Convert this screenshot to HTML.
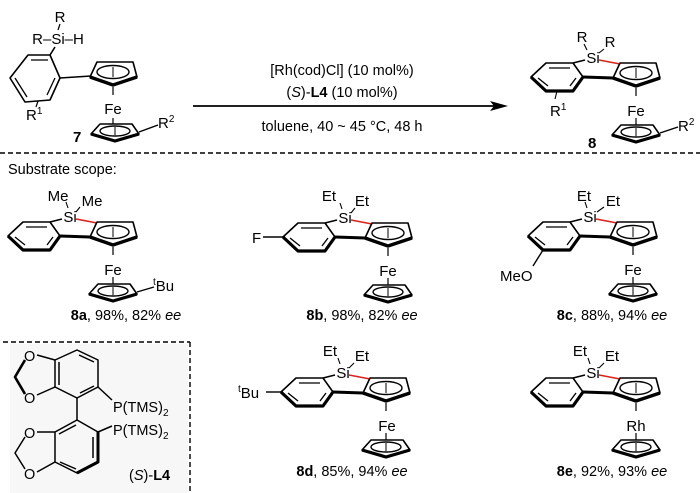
<!DOCTYPE html>
<html><head><meta charset="utf-8"><style>
html,body{margin:0;padding:0;background:#fff;}
svg{display:block;font-family:"Liberation Sans",sans-serif;}
</style></head><body>
<svg width="700" height="493" viewBox="0 0 700 493" xmlns="http://www.w3.org/2000/svg">
<defs>
<g id="cp">
  <polygon points="-23,6 -16,-9 20,-9 24,6 0,14" fill="none" stroke="#000" stroke-width="1.6" stroke-linejoin="round"/>
  <path d="M-23,6 L0,14 L24,6" fill="none" stroke="#000" stroke-width="3.4" stroke-linejoin="round"/>
  <ellipse cx="0" cy="1" rx="16" ry="6.5" fill="none" stroke="#000" stroke-width="1.4"/>
  <line x1="0" y1="-4" x2="0" y2="6" stroke="#000" stroke-width="1"/>
</g>
<g id="cp2">
  <polygon points="-24,3 -15,-7 17,-7 24,3 0,10" fill="none" stroke="#000" stroke-width="1.6" stroke-linejoin="round"/>
  <path d="M-24,3 L0,10 L24,3" fill="none" stroke="#000" stroke-width="3.2" stroke-linejoin="round"/>
  <ellipse cx="0" cy="0" rx="15" ry="5" fill="none" stroke="#000" stroke-width="1.4"/>
  <line x1="0" y1="-4" x2="0" y2="4" stroke="#000" stroke-width="1"/>
</g>
<g id="core">
  <polygon points="-47,5 -20,5 -10,19 -20,33 -47,33 -62,19" fill="none" stroke="#000" stroke-width="1.6" stroke-linejoin="round"/>
  <path d="M-62,19 L-47,33 L-20,33 L-10,19" fill="none" stroke="#000" stroke-width="3.2" stroke-linejoin="round"/>
  <line x1="-44" y1="10" x2="-23" y2="10" stroke="#000" stroke-width="1.3"/>
  <line x1="-55" y1="20" x2="-45" y2="28" stroke="#000" stroke-width="1.3"/>
  <line x1="-17" y1="20" x2="-23" y2="28" stroke="#000" stroke-width="1.3"/>
  <line x1="-20" y1="5" x2="-8" y2="2" stroke="#000" stroke-width="1.6"/>
  <line x1="6" y1="2" x2="27" y2="6" stroke="#e0201b" stroke-width="1.6"/>
  <line x1="-10" y1="19" x2="20" y2="20" stroke="#000" stroke-width="3"/>
  <use href="#cp" x="43" y="14"/>
  <line x1="43" y1="30" x2="43" y2="38" stroke="#000" stroke-width="1.2"/>
  <line x1="43" y1="60" x2="43" y2="67" stroke="#000" stroke-width="1.2"/>
  <use href="#cp2" x="43" y="74"/>
</g>
</defs>

<!-- starting material 7 -->
<g>
  <text x="60" y="22" font-size="15" text-anchor="middle">R</text>
  <line x1="60" y1="24" x2="58" y2="30" stroke="#000" stroke-width="1.2"/>
  <text x="58" y="44" font-size="15" text-anchor="middle">R–Si–H</text>
  <line x1="55" y1="47" x2="50" y2="55" stroke="#000" stroke-width="1.6"/>
  <polygon points="28,55 50,55 60,78 50,100 25,102 10,78" fill="none" stroke="#000" stroke-width="1.6" stroke-linejoin="round"/>
  <line x1="31" y1="60" x2="48" y2="60" stroke="#000" stroke-width="1.3"/>
  <line x1="15" y1="78" x2="27" y2="97" stroke="#000" stroke-width="1.3"/>
  <line x1="55" y1="78" x2="47" y2="95" stroke="#000" stroke-width="1.3"/>
  <line x1="60" y1="78" x2="91" y2="76" stroke="#000" stroke-width="1.6"/>
  <line x1="38" y1="101" x2="36" y2="107" stroke="#000" stroke-width="1.2"/>
  <text x="26" y="120" font-size="15">R<tspan font-size="10" dy="-6">1</tspan></text>
  <use href="#cp" x="113" y="71"/>
  <line x1="113" y1="87" x2="113" y2="95" stroke="#000" stroke-width="1.2"/>
  <text x="113" y="114" font-size="15" text-anchor="middle">Fe</text>
  <line x1="113" y1="118" x2="113" y2="124" stroke="#000" stroke-width="1.2"/>
  <use href="#cp2" x="115" y="131"/>
  <line x1="139" y1="132" x2="158" y2="125" stroke="#000" stroke-width="1.4"/>
  <text x="158" y="128" font-size="15">R<tspan font-size="10" dy="-6">2</tspan></text>
  <text x="73" y="142" font-size="15" font-weight="bold">7</text>
</g>

<!-- conditions -->
<text x="342" y="75" font-size="14.5" text-anchor="middle">[Rh(cod)Cl]  (10 mol%)</text>
<text x="342" y="97" font-size="14.5" text-anchor="middle">(<tspan font-style="italic">S</tspan>)-<tspan font-weight="bold">L4</tspan> (10 mol%)</text>
<line x1="193" y1="106" x2="498" y2="106" stroke="#000" stroke-width="1.8"/>
<polygon points="508,106 490,101 494,106 490,111" fill="#000"/>
<text x="342" y="131" font-size="14.5" text-anchor="middle">toluene, 40 ~ 45 °C, 48 h</text>

<!-- product 8 -->
<use href="#core" x="593" y="58"/>
<text x="593" y="63" font-size="15" text-anchor="middle">Si</text>
<text x="582" y="42" font-size="15" text-anchor="middle">R</text>
<text x="610" y="47" font-size="15" text-anchor="middle">R</text>
<line x1="584" y1="44" x2="587" y2="50" stroke="#000" stroke-width="1.1"/>
<line x1="604" y1="49" x2="599" y2="53" stroke="#000" stroke-width="1.1"/>
<line x1="557" y1="91" x2="555" y2="99" stroke="#000" stroke-width="1.1"/>
<text x="550" y="116" font-size="15">R<tspan font-size="10" dy="-6">1</tspan></text>
<text x="636" y="116" font-size="15" text-anchor="middle">Fe</text>
<line x1="660" y1="133" x2="678" y2="127" stroke="#000" stroke-width="1.4"/>
<text x="678" y="131" font-size="15">R<tspan font-size="10" dy="-6">2</tspan></text>
<text x="588" y="148" font-size="15" font-weight="bold">8</text>

<line x1="0" y1="153" x2="700" y2="153" stroke="#000" stroke-width="1.4" stroke-dasharray="5,3"/>
<text x="8" y="174" font-size="14.5">Substrate scope:</text>

<!-- 8a -->
<use href="#core" x="70" y="217"/>
<text x="70" y="222" font-size="15" text-anchor="middle">Si</text>
<text x="58" y="201" font-size="15" text-anchor="middle">Me</text>
<text x="92" y="206" font-size="15" text-anchor="middle">Me</text>
<line x1="66" y1="202" x2="68" y2="208" stroke="#000" stroke-width="1.1"/>
<line x1="80" y1="207" x2="76" y2="212" stroke="#000" stroke-width="1.1"/>
<text x="113" y="275" font-size="15" text-anchor="middle">Fe</text>
<line x1="137" y1="292" x2="154" y2="287" stroke="#000" stroke-width="1.4"/>
<text x="153" y="291" font-size="15"><tspan font-size="10" dy="-6">t</tspan><tspan dy="6">Bu</tspan></text>
<text x="126" y="320" font-size="14.5" text-anchor="middle"><tspan font-weight="bold">8a</tspan>, 98%, 82% <tspan font-style="italic">ee</tspan></text>

<!-- 8b -->
<use href="#core" x="345" y="218"/>
<text x="345" y="223" font-size="15" text-anchor="middle">Si</text>
<text x="329" y="201" font-size="15" text-anchor="middle">Et</text>
<text x="362" y="206" font-size="15" text-anchor="middle">Et</text>
<line x1="340" y1="203" x2="342" y2="209" stroke="#000" stroke-width="1.1"/>
<line x1="355" y1="208" x2="351" y2="213" stroke="#000" stroke-width="1.1"/>
<line x1="263" y1="237" x2="283" y2="237" stroke="#000" stroke-width="1.4"/>
<text x="252" y="243" font-size="15">F</text>
<text x="388" y="276" font-size="15" text-anchor="middle">Fe</text>
<text x="362" y="320" font-size="14.5" text-anchor="middle"><tspan font-weight="bold">8b</tspan>, 98%, 82% <tspan font-style="italic">ee</tspan></text>

<!-- 8c -->
<use href="#core" x="590" y="217"/>
<text x="590" y="222" font-size="15" text-anchor="middle">Si</text>
<text x="584" y="201" font-size="15" text-anchor="middle">Et</text>
<text x="613" y="206" font-size="15" text-anchor="middle">Et</text>
<line x1="585" y1="202" x2="587" y2="208" stroke="#000" stroke-width="1.1"/>
<line x1="604" y1="207" x2="597" y2="212" stroke="#000" stroke-width="1.1"/>
<line x1="543" y1="250" x2="533" y2="266" stroke="#000" stroke-width="1.4"/>
<text x="500" y="281" font-size="15">MeO</text>
<text x="633" y="275" font-size="15" text-anchor="middle">Fe</text>
<text x="612" y="320" font-size="14.5" text-anchor="middle"><tspan font-weight="bold">8c</tspan>, 88%, 94% <tspan font-style="italic">ee</tspan></text>

<!-- 8d -->
<use href="#core" x="343" y="373"/>
<text x="343" y="378" font-size="15" text-anchor="middle">Si</text>
<text x="330" y="356" font-size="15" text-anchor="middle">Et</text>
<text x="362" y="361" font-size="15" text-anchor="middle">Et</text>
<line x1="338" y1="358" x2="340" y2="364" stroke="#000" stroke-width="1.1"/>
<line x1="354" y1="363" x2="349" y2="368" stroke="#000" stroke-width="1.1"/>
<line x1="266" y1="392" x2="281" y2="392" stroke="#000" stroke-width="1.4"/>
<text x="238" y="398" font-size="15"><tspan font-size="10" dy="-6">t</tspan><tspan dy="6">Bu</tspan></text>
<text x="387" y="431" font-size="15" text-anchor="middle">Fe</text>
<text x="352" y="476" font-size="14.5" text-anchor="middle"><tspan font-weight="bold">8d</tspan>, 85%, 94% <tspan font-style="italic">ee</tspan></text>

<!-- 8e -->
<use href="#core" x="593" y="373"/>
<text x="593" y="378" font-size="15" text-anchor="middle">Si</text>
<text x="580" y="356" font-size="15" text-anchor="middle">Et</text>
<text x="612" y="361" font-size="15" text-anchor="middle">Et</text>
<line x1="588" y1="358" x2="590" y2="364" stroke="#000" stroke-width="1.1"/>
<line x1="604" y1="363" x2="599" y2="368" stroke="#000" stroke-width="1.1"/>
<text x="636" y="431" font-size="15" text-anchor="middle">Rh</text>
<text x="612" y="476" font-size="14.5" text-anchor="middle"><tspan font-weight="bold">8e</tspan>, 92%, 93% <tspan font-style="italic">ee</tspan></text>

<!-- L4 box -->
<rect x="10" y="344" width="178" height="149" fill="#f7f7f7"/>
<line x1="3" y1="342" x2="190" y2="342" stroke="#000" stroke-width="1.4" stroke-dasharray="5,3"/>
<line x1="190" y1="342" x2="190" y2="493" stroke="#000" stroke-width="1.4" stroke-dasharray="5,3"/>
<g stroke="#000" fill="none" stroke-width="1.5" stroke-linejoin="round">
  <!-- upper ring -->
  <polygon points="77,350 98,360 98,387 77,398 55,387 55,360"/>
  <line x1="79" y1="355" x2="94" y2="362"/>
  <line x1="59" y1="362" x2="59" y2="385"/>
  <line x1="80" y1="393" x2="94" y2="386"/>
  <line x1="98" y1="387" x2="112" y2="400"/>
  <line x1="55" y1="360" x2="37" y2="355"/>
  <line x1="55" y1="387" x2="37" y2="395"/>
  <path d="M25,360 L15,377 L25,394" stroke-width="2.6"/>
  <line x1="77" y1="398" x2="77" y2="420"/>
  <!-- lower ring -->
  <polygon points="77,420 98,432 98,462 77,473 55,462 55,432"/>
  <path d="M98,432 L98,462 L77,473" stroke-width="3"/>
  <line x1="93" y1="437" x2="93" y2="458"/>
  <line x1="59" y1="434" x2="76" y2="425"/>
  <line x1="60" y1="462" x2="76" y2="469"/>
  <line x1="98" y1="432" x2="112" y2="426"/>
  <line x1="55" y1="432" x2="37" y2="432"/>
  <line x1="55" y1="462" x2="37" y2="472"/>
  <path d="M25,437 L15,453 L25,469"/>
</g>
<g font-size="14.5">
  <text x="24" y="361">O</text>
  <text x="24" y="403">O</text>
  <text x="24" y="438">O</text>
  <text x="24" y="479">O</text>
  <text x="113" y="412">P(TMS)<tspan font-size="10" dy="4">2</tspan></text>
  <text x="113" y="435">P(TMS)<tspan font-size="10" dy="4">2</tspan></text>
  <text x="129" y="480">(<tspan font-style="italic">S</tspan>)-<tspan font-weight="bold">L4</tspan></text>
</g>
</svg>
</body></html>
